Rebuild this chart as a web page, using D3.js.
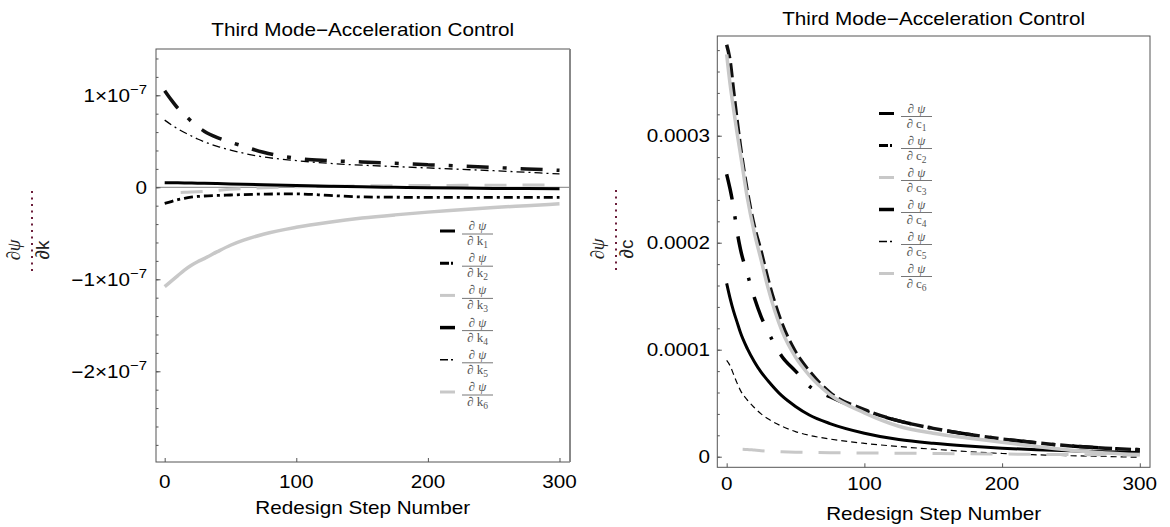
<!DOCTYPE html>
<html><head><meta charset="utf-8">
<script src="https://cdn.jsdelivr.net/npm/d3@7"></script>
<style>body{margin:0;background:#fff}svg{display:block}</style>
</head><body>
<svg id="chart" width="1170" height="527"></svg>
<script>
// ---------------- DATA ----------------
const titleText = "Third Mode\u2212Acceleration Control";
const xLabelText = "Redesign Step Number";
const xTickValues = [0, 100, 200, 300];

// Left panel: d psi / d k_i, values in units of 1e-7
const kSteps = [0, 5, 10, 15, 20, 25, 30, 40, 50, 60, 75, 100, 125, 150, 175, 200, 225, 250, 275, 300];
const k1 = [0.05, 0.049, 0.048, 0.047, 0.046, 0.045, 0.043, 0.04, 0.036, 0.033, 0.028, 0.02, 0.012, 0.005, 0.0, -0.005, -0.009, -0.012, -0.014, -0.016];
const k2 = [-0.175, -0.155, -0.135, -0.12, -0.108, -0.1, -0.095, -0.089, -0.084, -0.079, -0.074, -0.072, -0.088, -0.105, -0.108, -0.11, -0.11, -0.11, -0.11, -0.11];
const k3 = [-0.06, -0.06, -0.058, -0.055, -0.052, -0.048, -0.044, -0.033, -0.022, -0.014, -0.004, 0.005, 0.01, 0.015, 0.018, 0.02, 0.021, 0.022, 0.024, 0.025];
const k4 = [1.05, 0.95, 0.86, 0.79, 0.72, 0.66, 0.61, 0.54, 0.49, 0.445, 0.38, 0.315, 0.29, 0.275, 0.26, 0.245, 0.23, 0.215, 0.2, 0.185];
const k5 = [0.73, 0.68, 0.635, 0.595, 0.56, 0.525, 0.495, 0.445, 0.405, 0.37, 0.33, 0.29, 0.26, 0.24, 0.225, 0.21, 0.195, 0.18, 0.163, 0.145];
const k6 = [-1.08, -1.02, -0.96, -0.9, -0.85, -0.81, -0.775, -0.7, -0.63, -0.575, -0.51, -0.435, -0.38, -0.335, -0.3, -0.27, -0.245, -0.22, -0.2, -0.18];
const kYTicks = [1, 0, -1, -2];
const kYTickLabels = [["1\u00d710", "\u22127"], ["0", ""], ["\u22121\u00d710", "\u22127"], ["\u22122\u00d710", "\u22127"]];
const kYMinor = d3.range(-28, 15, 2).map(v => v / 10);

// Right panel: d psi / d c_i, values in units of 1e-4
const cSteps = [0, 2.5, 5, 7.5, 10, 15, 20, 25, 30, 40, 50, 60, 75, 100, 125, 150, 175, 200, 225, 250, 275, 300];
const c1 = [1.62, 1.48, 1.36, 1.26, 1.16, 1.01, 0.89, 0.79, 0.71, 0.57, 0.47, 0.39, 0.31, 0.22, 0.16, 0.125, 0.1, 0.08, 0.065, 0.055, 0.047, 0.04];
const c2 = [2.64, 2.5, 2.33, 2.11, 1.94, 1.71, 1.49, 1.31, 1.17, 0.94, 0.8, 0.66, 0.56, 0.43, 0.335, 0.265, 0.21, 0.165, 0.13, 0.1, 0.08, 0.065];
const c3 = [3.76, 3.48, 3.25, 3.03, 2.83, 2.42, 2.1, 1.84, 1.58, 1.18, 0.93, 0.76, 0.58, 0.41, 0.285, 0.22, 0.175, 0.135, 0.095, 0.06, 0.035, 0.02];
const c4 = [3.85, 3.7, 3.42, 3.15, 2.9, 2.48, 2.16, 1.92, 1.66, 1.25, 0.98, 0.8, 0.6, 0.44, 0.335, 0.265, 0.21, 0.165, 0.13, 0.1, 0.08, 0.065];
const c5 = [0.9, 0.85, 0.77, 0.69, 0.62, 0.53, 0.46, 0.4, 0.355, 0.285, 0.235, 0.2, 0.165, 0.125, 0.095, 0.07, 0.048, 0.03, 0.018, 0.01, 0.002, -0.005];
const c6 = [0.08, 0.078, 0.076, 0.074, 0.072, 0.068, 0.062, 0.056, 0.052, 0.046, 0.042, 0.04, 0.038, 0.035, 0.033, 0.03, 0.028, 0.025, 0.022, 0.02, 0.018, 0.015];
const cYTicks = [0, 1, 2, 3];
const cYTickLabels = [["0", ""], ["0.0001", ""], ["0.0002", ""], ["0.0003", ""]];
const cYMinor = d3.range(0, 40, 2).map(v => v / 10);

const seriesIdx = ["1", "2", "3", "4", "5", "6"];

// ---------------- STYLES ----------------
const GRAY = "#c8c8c8";
const kStyles = [
  {color: "#000", w: 3, dash: null, lw: 3, ldash: null},
  {color: "#000", w: 2.8, dash: "9,4,3,4", lw: 3, ldash: "9,2,2,2"},
  {color: GRAY, w: 3, dash: "22,16", off: 22, lw: 3, ldash: null},
  {color: "#111", w: 3.5, dash: "22,14,4,14", lw: 3.5, ldash: null},
  {color: "#000", w: 1.3, dash: "8,4,2,4", lw: 1.4, ldash: "8,3,2,3"},
  {color: GRAY, w: 3.5, dash: null, lw: 3, ldash: null}
];
const cStyles = [
  {color: "#000", w: 3, dash: null, lw: 3, ldash: null},
  {color: "#000", w: 3.5, dash: "26,17,3,17", lw: 3, ldash: "9,2,2,2"},
  {color: GRAY, w: 3.5, dash: null, lw: 3, ldash: null},
  {color: "#111", w: 3.5, dash: "14,5", lw: 3.5, ldash: null},
  {color: "#000", w: 1.2, dash: "6,4", lw: 1.4, ldash: "8,3,2,3"},
  {color: GRAY, w: 3, dash: "22,16", off: 22, lw: 3, ldash: null}
];

const SANS = "'Liberation Sans', Arial, sans-serif";
const SERIF = "'Liberation Serif', 'Times New Roman', serif";
const SX = 1.15;

const svg = d3.select("#chart");
const defs = svg.append("defs");

function sansText(g, x, y, parts, size, anchor) {
  const t = g.append("text")
    .attr("transform", `translate(${x},${y}) scale(${SX},1)`)
    .attr("font-family", SANS).attr("font-size", size)
    .attr("text-anchor", anchor).attr("fill", "#000");
  t.append("tspan").text(parts[0]);
  if (parts[1]) t.append("tspan").attr("dy", -8).attr("font-size", size * 0.72).text(parts[1]);
  return t;
}

function drawPanel(cfg) {
  const x = d3.scaleLinear().domain(cfg.xd).range([cfg.x0, cfg.x1]);
  const y = d3.scaleLinear().domain(cfg.yd).range([cfg.y1, cfg.y0]);
  const g = svg.append("g");

  defs.append("clipPath").attr("id", "clip" + cfg.id).append("rect")
    .attr("x", cfg.x0).attr("y", cfg.y0).attr("width", cfg.x1 - cfg.x0).attr("height", cfg.y1 - cfg.y0);

  // zero axis line
  if (cfg.zeroLine) {
    g.append("line").attr("x1", cfg.x0).attr("x2", cfg.x1).attr("y1", y(0)).attr("y2", y(0))
      .attr("stroke", "#999").attr("stroke-width", 1.2);
  }

  // ticks (inward)
  const yMinorAxis = d3.axisLeft(y).tickValues(cfg.yMinor).tickSizeInner(-2.5).tickSizeOuter(0).tickFormat("");
  const yMajorAxis = d3.axisLeft(y).tickValues(cfg.yTicks).tickSizeInner(-4.5).tickSizeOuter(0).tickFormat("");
  const xAxis = d3.axisBottom(x).tickValues(xTickValues).tickSizeInner(-4).tickSizeOuter(0).tickFormat("");
  [yMinorAxis, yMajorAxis].forEach(a => {
    const ag = g.append("g").attr("transform", `translate(${cfg.x0},0)`).call(a);
    ag.select(".domain").remove();
    ag.selectAll("line").attr("stroke", "#555");
  });
  const xg = g.append("g").attr("transform", `translate(0,${cfg.y1})`).call(xAxis);
  xg.select(".domain").remove();
  xg.selectAll("line").attr("stroke", "#555");

  // series
  const line = d3.line().x(d => x(d[0])).y(d => y(d[1])).curve(d3.curveMonotoneX);
  const lg = g.append("g").attr("clip-path", `url(#clip${cfg.id})`);
  cfg.order.forEach(i => {
    const st = cfg.styles[i];
    const pts = cfg.steps.map((s, j) => [s, cfg.series[i][j]]);
    const p = lg.append("path").attr("d", line(pts)).attr("fill", "none")
      .attr("stroke", st.color).attr("stroke-width", st.w);
    if (st.dash) p.attr("stroke-dasharray", st.dash);
    if (st.off) p.attr("stroke-dashoffset", st.off);
  });

  // frame
  g.append("rect").attr("x", cfg.x0).attr("y", cfg.y0).attr("width", cfg.x1 - cfg.x0).attr("height", cfg.y1 - cfg.y0)
    .attr("fill", "none").attr("stroke", "#555").attr("stroke-width", 1);
  if (cfg.thickRight) {
    g.append("line").attr("x1", cfg.x1 + 0.5).attr("x2", cfg.x1 + 0.5).attr("y1", cfg.y0).attr("y2", cfg.y1)
      .attr("stroke", "#888").attr("stroke-width", 2);
  }

  // y tick labels
  cfg.yTicks.forEach((v, i) => {
    sansText(g, cfg.yLabelRight, y(v) + 6.5, cfg.yTickLabels[i], 18, "end");
  });
  // x tick labels
  xTickValues.forEach(v => {
    sansText(g, x(v), cfg.xTickBase, [String(v), ""], 18, "middle");
  });
  // title and x label
  sansText(g, (cfg.x0 + cfg.x1) / 2, cfg.titleBase, [titleText, ""], 18, "middle");
  sansText(g, (cfg.x0 + cfg.x1) / 2, cfg.xLabelBase, [xLabelText, ""], 18, "middle");

  // y axis label: rotated fraction with dotted bar
  const ya = g.append("g").attr("transform", `translate(${cfg.yLab[0]},${cfg.yLab[1]}) rotate(-90)`);
  ya.append("line").attr("x1", -20).attr("x2", 60).attr("y1", 0).attr("y2", 0)
    .attr("stroke", "#6b1d3a").attr("stroke-width", 2).attr("stroke-dasharray", "2,4.5");
  const num = ya.append("text").attr("x", 1).attr("y", -12).attr("text-anchor", "middle")
    .attr("font-family", SERIF).attr("font-size", 19).attr("fill", "#222");
  num.append("tspan").text("\u2202");
  num.append("tspan").attr("font-style", "italic").text("\u03c8");
  ya.append("text").attr("x", 1).attr("y", 17).attr("text-anchor", "middle")
    .attr("font-family", SANS).attr("font-size", 19).attr("fill", "#222").text("\u2202" + cfg.letter);

  // legend
  const leg = g.append("g");
  seriesIdx.forEach((s, i) => {
    const st = cfg.styles[i];
    const ry = cfg.leg.y + i * cfg.leg.dy;
    const l = leg.append("line").attr("x1", cfg.leg.x).attr("x2", cfg.leg.x + 15).attr("y1", ry).attr("y2", ry)
      .attr("stroke", st.color === GRAY ? GRAY : "#000").attr("stroke-width", st.lw);
    if (st.ldash) l.attr("stroke-dasharray", st.ldash);
    const fx = cfg.leg.x + 22, fw = 31, cx = fx + fw / 2;
    leg.append("line").attr("x1", fx).attr("x2", fx + fw).attr("y1", ry + 3).attr("y2", ry + 3)
      .attr("stroke", "#666").attr("stroke-width", 0.9);
    const n = leg.append("text").attr("x", cx).attr("y", ry - 1).attr("text-anchor", "middle")
      .attr("font-family", SERIF).attr("font-size", 13).attr("fill", "#555");
    n.append("tspan").text("\u2202 ");
    n.append("tspan").attr("font-style", "italic").text("\u03c8");
    const d = leg.append("text").attr("x", cx).attr("y", ry + 14).attr("text-anchor", "middle")
      .attr("font-family", SERIF).attr("font-size", 13).attr("fill", "#555");
    d.append("tspan").text("\u2202 " + cfg.letter);
    d.append("tspan").attr("dy", 3).attr("font-size", 9.5).text(s);
  });
}

drawPanel({
  id: "L", x0: 156, x1: 569.5, y0: 49, y1: 462, xd: [-6.6, 307.6], yd: [-2.986, 1.503],
  steps: kSteps, series: [k1, k2, k3, k4, k5, k6], styles: kStyles, order: [5, 2, 0, 1, 4, 3],
  yTicks: kYTicks, yTickLabels: kYTickLabels, yMinor: kYMinor, zeroLine: true, thickRight: true,
  yLabelRight: 147, xTickBase: 488, titleBase: 36, xLabelBase: 514,
  yLab: [32, 251], letter: "k", leg: {x: 440, y: 231, dy: 32.2}
});
drawPanel({
  id: "R", x0: 717.3, x1: 1150, y0: 36, y1: 467.3, xd: [-6.8, 307.4], yd: [-0.099, 3.932],
  steps: cSteps, series: [c1, c2, c3, c4, c5, c6], styles: cStyles, order: [0, 1, 3, 2, 4, 5],
  yTicks: cYTicks, yTickLabels: cYTickLabels, yMinor: cYMinor, zeroLine: false, thickRight: false,
  yLabelRight: 710, xTickBase: 490, titleBase: 25, xLabelBase: 520,
  yLab: [616, 250], letter: "c", leg: {x: 879, y: 113.5, dy: 32}
});
</script>
</body></html>
